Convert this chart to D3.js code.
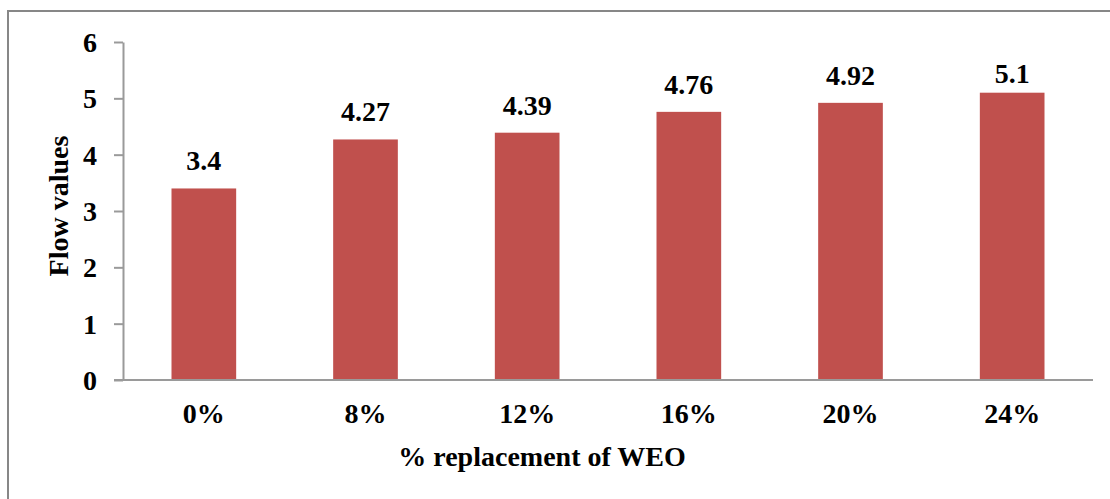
<!DOCTYPE html>
<html>
<head>
<meta charset="utf-8">
<script src="https://cdn.jsdelivr.net/npm/d3@7"></script>
<style>
    body { margin: 0; background: #fff; }
    .axis path, .axis line { stroke: #9a9a9a; stroke-width: 2px; }
</style>
</head>
<body>
<div id="chart"></div>
<script>
var categories = ["0%", "8%", "12%", "16%", "20%", "24%"];
var flowValues = [3.4, 4.27, 4.39, 4.76, 4.92, 5.1];
var yTicks = [0, 1, 2, 3, 4, 5, 6];

var width = 1110,
    height = 499,
    plot = {left: 123, right: 1093, top: 42, bottom: 380},
    fontSize = "28px";

function serif(sel) {
    sel.style("font-family", "'Liberation Serif'")
        .style("font-weight", "bold")
        .style("font-size", fontSize)
        .attr("fill", "#000");
}

var svg = d3.select("#chart").append("svg")
    .attr("width", width)
    .attr("height", height);

// chart border (cropped on right and bottom)
svg.append("rect")
    .attr("x", 8)
    .attr("y", 11)
    .attr("width", width + 20)
    .attr("height", height + 20)
    .attr("fill", "none")
    .attr("stroke", "#878787")
    .attr("stroke-width", 2);

var x = d3.scaleBand()
    .domain(categories)
    .range([plot.left, plot.right])
    .paddingInner(0.6)
    .paddingOuter(0.3);

var y = d3.scaleLinear()
    .domain([0, 6])
    .range([plot.bottom, plot.top]);

// bars
svg.append("g")
    .selectAll("rect")
    .data(flowValues)
    .enter().append("rect")
    .attr("x", function(d, i) { return x(categories[i]); })
    .attr("y", function(d) { return y(d); })
    .attr("width", x.bandwidth())
    .attr("height", function(d) { return y(0) - y(d); })
    .attr("fill", "#C0504D");

// y axis
var yAxis = svg.append("g")
    .attr("class", "axis")
    .attr("transform", "translate(" + plot.left + ",0)")
    .call(d3.axisLeft(y).tickValues(yTicks).tickFormat(d3.format("d"))
        .tickSize(9).tickSizeOuter(0).tickPadding(17));
yAxis.attr("font-family", null).attr("font-size", null);
yAxis.selectAll("text")
    .attr("dy", "0.34em")
    .call(serif);

// x axis
var xAxis = svg.append("g")
    .attr("class", "axis")
    .attr("transform", "translate(0," + plot.bottom + ")")
    .call(d3.axisBottom(x).tickSize(0).tickSizeOuter(0).tickPadding(0));
xAxis.attr("font-family", null).attr("font-size", null);
xAxis.select(".domain").attr("d", "M" + (plot.left - 9) + ",0H" + plot.right);
xAxis.selectAll("text")
    .attr("y", 43)
    .attr("dy", 0)
    .call(serif);

// data labels (kept inside the plot area like Excel does)
svg.append("g")
    .selectAll("text")
    .data(flowValues)
    .enter().append("text")
    .attr("x", function(d, i) { return x(categories[i]) + x.bandwidth() / 2; })
    .attr("y", function(d) { return Math.max(y(d) - 18, 83); })
    .attr("text-anchor", "middle")
    .text(function(d) { return d; })
    .call(serif);

// axis titles
svg.append("text")
    .attr("transform", "translate(68,206) rotate(-90)")
    .attr("text-anchor", "middle")
    .text("Flow values")
    .call(serif);

svg.append("text")
    .attr("x", 542)
    .attr("y", 466)
    .attr("text-anchor", "middle")
    .text("% replacement of WEO")
    .call(serif);
</script>
</body>
</html>
